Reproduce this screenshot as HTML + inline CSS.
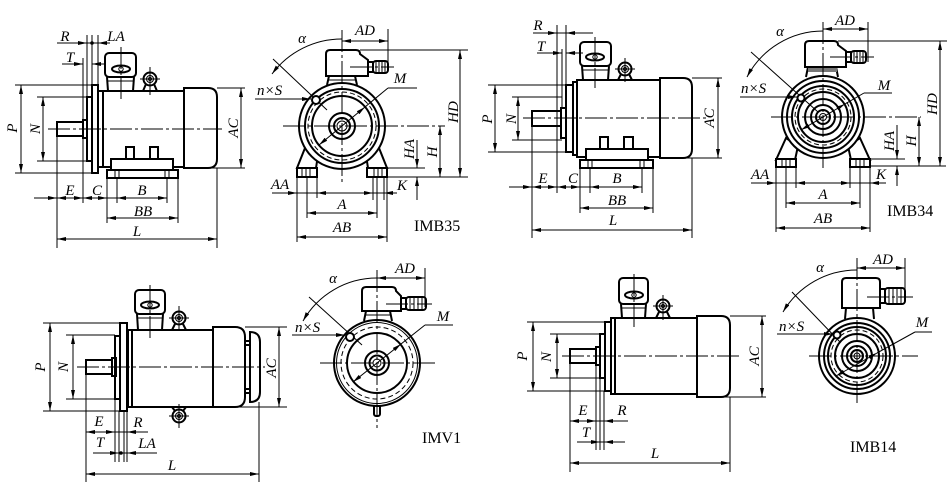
<!DOCTYPE html>
<html><head><meta charset="utf-8"><style>
html,body{margin:0;padding:0;background:#fff}
svg{display:block}
.k{fill:none;stroke:#000;stroke-width:2}
.w{fill:#fff;stroke:#000;stroke-width:2}
.t{fill:none;stroke:#000;stroke-width:1}
.c{fill:none;stroke:#000;stroke-width:1;stroke-dasharray:22 3 3 3}
.d{fill:none;stroke:#000;stroke-width:1;stroke-dasharray:5 3}
.b{marker-start:url(#a);marker-end:url(#a)}
.e{marker-end:url(#a)}
.s{marker-start:url(#a)}
text{font-family:"Liberation Serif",serif;font-style:italic;font-size:15px;fill:#000}
.u{font-style:normal;font-size:16px}
</style></head><body>
<svg width="948" height="489" viewBox="0 0 948 489" xmlns="http://www.w3.org/2000/svg">
<defs><marker id="a" viewBox="0 0 9 4" refX="9" refY="2" markerWidth="9" markerHeight="4" orient="auto-start-reverse" markerUnits="userSpaceOnUse"><path d="M0,0L9,2L0,4z" fill="#000"/></marker></defs>

<!-- ===== Panel 1 : IMB35 side ===== -->
<rect class="k" x="98" y="91" width="86" height="76"/>
<path class="k" d="M103,91V167"/>
<path class="k" d="M184,88H208Q217,88 217,97V159Q217,168 208,168H184Z"/>
<rect class="k" x="92" y="85" width="6" height="88"/>
<rect class="k" x="87" y="97" width="5" height="64"/>
<rect class="k" x="83" y="120" width="4" height="18"/>
<rect class="k" x="57" y="122" width="26" height="14"/>
<rect class="w" x="105" y="53" width="31" height="24" rx="4"/>
<path class="k" d="M107,77L108,91M134,77L133,91"/>
<path class="t" d="M107,81H134"/>
<ellipse class="k" cx="121" cy="69" rx="9" ry="3.5"/>
<circle class="t" cx="121" cy="69" r="2.2"/>
<path class="k" d="M143,91L146,84M157,91L154,84"/>
<circle class="w" cx="150" cy="79" r="6.5"/>
<circle class="t" cx="150" cy="79" r="3.5"/>
<circle class="t" cx="150" cy="79" r="1.5"/>
<path class="t" d="M150,67V95M140,79H160"/>
<rect class="w" x="126" y="147" width="8" height="13"/>
<rect class="w" x="150" y="147" width="8" height="13"/>
<rect class="w" x="111" y="159" width="62" height="11"/>
<rect class="w" x="107" y="170" width="71" height="8"/>
<path class="t" d="M115,171V177M119,171V177M165,171V177M169,171V177"/>
<path class="c" d="M48,129H222M121,47V99"/>
<path class="t" d="M15,85H92M15,173H92M37,97H87M37,161H87M217,88H245M210,168H245M83,58V203M87,35V97M92,35V85M98,35V85M57,136V248M107,178V223M117,178V203M167,178V203M178,178V223M217,168V248"/>
<path class="t b" d="M21,85V173"/>
<path class="t b" d="M43,97V161"/>
<path class="t b" d="M241,88V168"/>
<path class="t e" d="M57,43H87"/><path class="t" d="M87,43H98"/><path class="t e" d="M110,43H98"/>
<circle cx="92" cy="43" r="1.8"/>
<path class="t e" d="M62,64H83"/><path class="t e" d="M104,64H92"/>
<path class="t e" d="M34,198H57"/>
<path class="t b" d="M57,198H83"/>
<path class="t b" d="M83,198H107"/>
<path class="t" d="M107,198H117"/>
<path class="t b" d="M117,198H167"/>
<path class="t b" d="M107,218H178"/>
<path class="t b" d="M57,239H217"/>
<text x="65" y="41" text-anchor="middle">R</text>
<text x="116" y="41" text-anchor="middle">LA</text>
<text x="70" y="62" text-anchor="middle">T</text>
<text x="70" y="195" text-anchor="middle">E</text>
<text x="97" y="195" text-anchor="middle">C</text>
<text x="142" y="195" text-anchor="middle">B</text>
<text x="143" y="216" text-anchor="middle">BB</text>
<text x="137" y="236" text-anchor="middle">L</text>
<text transform="translate(17,128) rotate(-90)" text-anchor="middle">P</text>
<text transform="translate(40,129) rotate(-90)" text-anchor="middle">N</text>
<text transform="translate(238,128) rotate(-90)" text-anchor="middle">AC</text>

<!-- ===== Panel 2 : IMB35 end ===== -->
<path class="w" d="M305,148L297,168H316L318,155Z"/>
<path class="w" d="M379,148L387,168H368L366,155Z"/>
<rect class="w" x="297" y="168" width="20" height="9"/>
<rect class="w" x="367" y="168" width="20" height="9"/>
<path class="t" d="M302,169V176M306,169V176M310,169V176M374,169V176M378,169V176M382,169V176"/>
<circle class="w" cx="342" cy="126" r="43"/>
<circle class="k" cx="342" cy="126" r="37"/>
<circle class="d" cx="342" cy="126" r="34"/>
<circle class="k" cx="342" cy="126" r="30"/>
<circle class="k" cx="342" cy="126" r="13"/>
<circle class="k" cx="342" cy="126" r="8"/>
<circle class="t" cx="342" cy="126" r="5"/>
<path class="k" d="M329,76L327,85M355,76L357,85"/>
<path class="t" d="M329,80H356"/>
<path class="w" d="M330,50H356Q360,50 360,54L368,60V76H326V54Q326,50 330,50Z"/>
<rect class="w" x="368" y="62" width="5" height="10"/>
<rect class="w" x="373" y="61" width="15" height="12" rx="3"/>
<path class="t" d="M376,61V73M379,61V73M382,61V73M385,61V73"/>
<path class="c" d="M342,30V182M283,126H445M350,67H394"/>
<path class="t" d="M273,59L327,110"/>
<circle class="w" cx="316" cy="100" r="4"/>
<path class="t s" d="M272,74A87,87 0 0 1 342,39"/>
<path class="t e" d="M255,99H311"/>
<path class="t" d="M388,88H417M365,107L388,88"/>
<path class="t b" d="M319,145L365,107"/>
<path class="t b" d="M342,41H388"/>
<path class="t" d="M388,29V68M360,50H468M387,168H425M387,177H468"/>
<path class="t b" d="M460,50V177"/>
<path class="t b" d="M440,126V177"/>
<path class="t e" d="M417,140V168"/><path class="t e" d="M417,200V177"/>
<path class="t" d="M272,193H397"/>
<path class="t e" d="M286,193H297"/><path class="t e" d="M328,193H317"/><path class="t e" d="M362,193H373"/><path class="t e" d="M396,193H384"/>
<path class="t" d="M297,177V242M387,177V242M307,177V218M377,177V218M317,177V198M373,177V200M384,177V200"/>
<path class="t b" d="M307,213H377"/>
<path class="t b" d="M297,237H387"/>
<text x="365" y="35" text-anchor="middle">AD</text>
<text x="302" y="43" text-anchor="middle">α</text>
<text x="257" y="95">n×S</text>
<text x="400" y="83" text-anchor="middle">M</text>
<text transform="translate(458,112) rotate(-90)" text-anchor="middle">HD</text>
<text transform="translate(437,152) rotate(-90)" text-anchor="middle">H</text>
<text transform="translate(414,149) rotate(-90)" text-anchor="middle">HA</text>
<text x="280" y="189" text-anchor="middle">AA</text>
<text x="402" y="190" text-anchor="middle">K</text>
<text x="342" y="209" text-anchor="middle">A</text>
<text x="342" y="232" text-anchor="middle">AB</text>
<text class="u" x="414" y="231">IMB35</text>

<!-- ===== Panel 3 : IMB34 side ===== -->
<rect class="k" x="577" y="80" width="83" height="77"/>
<rect class="k" x="573" y="82" width="4" height="73"/>
<path class="k" d="M660,78H683Q692,78 692,87V149Q692,158 683,158H660Z"/>
<rect class="k" x="566" y="85" width="7" height="67"/>
<rect class="k" x="561" y="108" width="5" height="30"/>
<rect class="k" x="532" y="111" width="29" height="15"/>
<rect class="w" x="580" y="42" width="31" height="24" rx="4"/>
<path class="k" d="M582,66L583,80M609,66L608,80"/>
<path class="t" d="M582,70H609"/>
<ellipse class="k" cx="595" cy="57" rx="9" ry="3.5"/>
<circle class="t" cx="595" cy="57" r="2.2"/>
<path class="k" d="M618,80L621,74M632,80L629,74"/>
<circle class="w" cx="625" cy="69" r="6.5"/>
<circle class="t" cx="625" cy="69" r="3.5"/>
<circle class="t" cx="625" cy="69" r="1.5"/>
<path class="t" d="M625,58V82M615,69H635"/>
<rect class="w" x="600" y="137" width="8" height="13"/>
<rect class="w" x="624" y="137" width="9" height="13"/>
<rect class="w" x="586" y="149" width="62" height="11"/>
<rect class="w" x="580" y="160" width="73" height="8"/>
<path class="t" d="M588,161V167M592,161V167M640,161V167M644,161V167"/>
<path class="c" d="M523,118H707M595,37V88"/>
<path class="t" d="M488,85H566M488,152H566M512,97H562M512,140H562M692,78H722M685,158H722M557,25V193M566,25V85M562,49V108M532,126V238M580,168V213M590,168V193M642,168V193M653,168V213M692,158V238"/>
<path class="t b" d="M495,85V152"/>
<path class="t b" d="M518,97V140"/>
<path class="t b" d="M718,78V158"/>
<path class="t e" d="M533,33H557"/><path class="t" d="M557,33H566"/><path class="t e" d="M593,33H566"/>
<path class="t e" d="M537,53H562"/><path class="t e" d="M583,53H566"/>
<path class="t e" d="M509,187H532"/>
<path class="t b" d="M532,187H557"/>
<path class="t b" d="M557,187H580"/>
<path class="t" d="M580,187H590"/>
<path class="t b" d="M590,187H642"/>
<path class="t b" d="M580,208H653"/>
<path class="t b" d="M532,230H692"/>
<text x="538" y="30" text-anchor="middle">R</text>
<text x="541" y="51" text-anchor="middle">T</text>
<text x="543" y="183" text-anchor="middle">E</text>
<text x="573" y="183" text-anchor="middle">C</text>
<text x="617" y="183" text-anchor="middle">B</text>
<text x="617" y="205" text-anchor="middle">BB</text>
<text x="613" y="225" text-anchor="middle">L</text>
<text transform="translate(492,119) rotate(-90)" text-anchor="middle">P</text>
<text transform="translate(516,119) rotate(-90)" text-anchor="middle">N</text>
<text transform="translate(714,118) rotate(-90)" text-anchor="middle">AC</text>

<!-- ===== Panel 4 : IMB34 end ===== -->
<path class="w" d="M786,138L776,160H795L798,146Z"/>
<path class="w" d="M860,138L870,160H851L848,146Z"/>
<rect class="w" x="776" y="159" width="20" height="8"/>
<rect class="w" x="850" y="159" width="20" height="8"/>
<path class="t" d="M782,160V166M786,160V166M790,160V166M856,160V166M860,160V166M864,160V166"/>
<circle class="w" cx="823" cy="117" r="41"/>
<circle class="k" cx="823" cy="117" r="36"/>
<circle class="k" cx="823" cy="117" r="31"/>
<circle class="d" cx="823" cy="117" r="28"/>
<circle class="k" cx="823" cy="117" r="25"/>
<circle class="k" cx="823" cy="117" r="18"/>
<circle class="k" cx="823" cy="117" r="12"/>
<circle class="k" cx="823" cy="117" r="7"/>
<circle class="t" cx="823" cy="117" r="3.5"/>
<path class="k" d="M808,67L806,77M836,67L838,77"/>
<rect x="808" y="68" width="29" height="4" fill="#777"/>
<path class="w" d="M809,41H834Q838,41 838,45L846,51V67H805V45Q805,41 809,41Z"/>
<rect class="w" x="846" y="52" width="5" height="10"/>
<rect class="w" x="851" y="51" width="15" height="12" rx="3"/>
<path class="t" d="M854,51V63M857,51V63M860,51V63M863,51V63"/>
<path class="c" d="M823,22V170M771,117H921M830,57H874"/>
<path class="t" d="M751,52L818,112"/>
<circle class="w" cx="801" cy="98" r="3.5"/>
<path class="t s" d="M747,77A86,86 0 0 1 823,31"/>
<path class="t e" d="M740,97H797"/>
<path class="t" d="M864,93H892M845,104L864,93"/>
<path class="t b" d="M801,130L845,104"/>
<path class="t b" d="M823,29H868"/>
<path class="t" d="M868,22V62M838,41H947M870,159H905M870,166H946"/>
<path class="t b" d="M940,41V166"/>
<path class="t b" d="M919,117V166"/>
<path class="t e" d="M897,125V159"/><path class="t e" d="M897,186V166"/>
<path class="t" d="M751,183H886"/>
<path class="t e" d="M766,183H776"/><path class="t e" d="M806,183H796"/><path class="t e" d="M840,183H850"/><path class="t e" d="M882,183H870"/>
<path class="t" d="M776,167V232M870,167V232M786,167V208M860,167V208M796,167V188M850,167V188"/>
<path class="t b" d="M786,203H860"/>
<path class="t b" d="M776,228H870"/>
<text x="845" y="25" text-anchor="middle">AD</text>
<text x="780" y="36" text-anchor="middle">α</text>
<text x="741" y="93">n×S</text>
<text x="884" y="90" text-anchor="middle">M</text>
<text transform="translate(937,104) rotate(-90)" text-anchor="middle">HD</text>
<text transform="translate(916,141) rotate(-90)" text-anchor="middle">H</text>
<text transform="translate(894,141) rotate(-90)" text-anchor="middle">HA</text>
<text x="760" y="179" text-anchor="middle">AA</text>
<text x="881" y="179" text-anchor="middle">K</text>
<text x="823" y="199" text-anchor="middle">A</text>
<text x="823" y="223" text-anchor="middle">AB</text>
<text class="u" x="887" y="216">IMB34</text>

<!-- ===== Panel 5 : IMV1 side ===== -->
<rect class="k" x="128" y="330" width="85" height="77"/>
<path class="k" d="M132,330V407"/>
<path class="k" d="M213,327H235Q245,327 245,337V397Q245,407 235,407H213Z"/>
<path class="w" d="M250,332Q260,332 260,342V392Q260,402 250,402Z"/>
<rect class="k" x="245" y="341" width="5" height="4"/>
<rect class="k" x="245" y="389" width="5" height="4"/>
<rect class="k" x="120" y="323" width="7" height="88"/>
<rect class="k" x="115" y="336" width="5" height="63"/>
<rect class="k" x="112" y="358" width="4" height="18"/>
<rect class="k" x="86" y="360" width="26" height="14"/>
<rect class="w" x="135" y="290" width="30" height="24" rx="4"/>
<path class="k" d="M137,314L138,330M163,314L162,330"/>
<path class="t" d="M137,318H163"/>
<ellipse class="k" cx="150" cy="305" rx="9" ry="3.5"/>
<circle class="t" cx="150" cy="305" r="2.2"/>
<path class="k" d="M172,330L175,324M186,330L183,324"/>
<circle class="w" cx="179" cy="318" r="6.5"/>
<circle class="t" cx="179" cy="318" r="3.5"/>
<circle class="t" cx="179" cy="318" r="1.5"/>
<path class="t" d="M179,306V331M169,318H189"/>
<path class="k" d="M172,407L175,411M186,407L183,411"/>
<circle class="w" cx="179" cy="416" r="6.5"/>
<circle class="t" cx="179" cy="416" r="3.5"/>
<circle class="t" cx="179" cy="416" r="1.5"/>
<path class="t" d="M179,404V428M169,416H189"/>
<path class="c" d="M77,367H265M150,285V338"/>
<path class="t" d="M43,323H120M43,411H120M66,335H115M66,399H115M245,327H287M238,407H287M115,399V462M119,411V462M124,411V462M127,411V462M86,374V482M259,402V482"/>
<path class="t b" d="M50,323V411"/>
<path class="t b" d="M73,335V399"/>
<path class="t b" d="M279,327V407"/>
<path class="t b" d="M86,432H115"/>
<path class="t" d="M115,432H127"/><path class="t e" d="M148,432H127"/>
<path class="t e" d="M93,453H119"/><path class="t" d="M119,453H127"/><path class="t e" d="M157,453H127"/>
<circle cx="121" cy="453" r="1.8"/>
<path class="t b" d="M86,474H259"/>
<text x="99" y="426" text-anchor="middle">E</text>
<text x="138" y="427" text-anchor="middle">R</text>
<text x="100" y="447" text-anchor="middle">T</text>
<text x="147" y="448" text-anchor="middle">LA</text>
<text x="172" y="470" text-anchor="middle">L</text>
<text transform="translate(45,367) rotate(-90)" text-anchor="middle">P</text>
<text transform="translate(68,367) rotate(-90)" text-anchor="middle">N</text>
<text transform="translate(276,368) rotate(-90)" text-anchor="middle">AC</text>

<!-- ===== Panel 6 : IMV1 end ===== -->
<rect class="w" x="374" y="404" width="6" height="12" rx="2"/>
<circle class="w" cx="377" cy="363" r="43"/>
<circle class="t" cx="377" cy="363" r="40.5"/>
<circle class="d" cx="377" cy="363" r="36"/>
<circle class="k" cx="377" cy="363" r="30"/>
<circle class="k" cx="377" cy="363" r="12"/>
<circle class="k" cx="377" cy="363" r="7.5"/>
<circle class="t" cx="377" cy="363" r="4"/>
<path class="k" d="M366,311L364,321M390,311L392,321"/>
<path class="t" d="M366,315H391"/>
<path class="w" d="M366,287H392Q396,287 396,291L401,296V311H362V291Q362,287 366,287Z"/>
<rect class="w" x="401" y="298" width="5" height="11"/>
<rect class="w" x="406" y="297" width="20" height="13" rx="3"/>
<path class="t" d="M410,297V310M414,297V310M418,297V310M422,297V310"/>
<path class="c" d="M377,270V428M320,363H437M386,304H432"/>
<path class="t" d="M309,297L362,345"/>
<circle class="w" cx="350" cy="337" r="4"/>
<path class="t s" d="M303,321A85,85 0 0 1 377,278"/>
<path class="t e" d="M292,335H345"/>
<path class="t" d="M425,325H453M401,344L425,325"/>
<path class="t b" d="M353,382L401,344"/>
<path class="t b" d="M377,278H425"/>
<path class="t" d="M425,268V307"/>
<text x="405" y="273" text-anchor="middle">AD</text>
<text x="333" y="283" text-anchor="middle">α</text>
<text x="295" y="332">n×S</text>
<text x="443" y="321" text-anchor="middle">M</text>
<text class="u" x="422" y="443">IMV1</text>

<!-- ===== Panel 7 : IMB14 side ===== -->
<rect class="k" x="615" y="318" width="82" height="76"/>
<rect class="k" x="611" y="318" width="4" height="76"/>
<path class="k" d="M697,316H721Q730,316 730,325V388Q730,397 721,397H697Z"/>
<rect class="k" x="605" y="322" width="6" height="69"/>
<rect class="k" x="600" y="334" width="5" height="44"/>
<rect class="k" x="596" y="347" width="4" height="18"/>
<rect class="k" x="570" y="349" width="26" height="14"/>
<rect class="w" x="619" y="278" width="29" height="26" rx="4"/>
<path class="k" d="M621,304L622,318M646,304L645,318"/>
<path class="t" d="M621,308H646"/>
<ellipse class="k" cx="634" cy="295" rx="9" ry="3.5"/>
<circle class="t" cx="634" cy="295" r="2.2"/>
<path class="k" d="M656,318L659,312M670,318L667,312"/>
<circle class="w" cx="663" cy="306" r="6.5"/>
<circle class="t" cx="663" cy="306" r="3.5"/>
<circle class="t" cx="663" cy="306" r="1.5"/>
<path class="t" d="M663,295V320M653,306H673"/>
<path class="c" d="M562,356H740M634,274V327"/>
<path class="t" d="M527,322H605M527,391H605M550,334H600M550,378H600M730,316H766M723,397H766M596,365V450M600,378V450M604,391V450M570,363V472M730,397V472"/>
<path class="t b" d="M533,322V391"/>
<path class="t b" d="M557,334V378"/>
<path class="t b" d="M762,316V397"/>
<path class="t b" d="M570,421H596"/>
<path class="t" d="M596,421H604"/><path class="t e" d="M628,421H604"/>
<path class="t e" d="M577,442H600"/><path class="t" d="M600,442H604"/><path class="t e" d="M625,442H604"/>
<path class="t b" d="M570,463H730"/>
<text x="583" y="415" text-anchor="middle">E</text>
<text x="622" y="415" text-anchor="middle">R</text>
<text x="586" y="437" text-anchor="middle">T</text>
<text x="655" y="458" text-anchor="middle">L</text>
<text transform="translate(527,356) rotate(-90)" text-anchor="middle">P</text>
<text transform="translate(551,357) rotate(-90)" text-anchor="middle">N</text>
<text transform="translate(759,356) rotate(-90)" text-anchor="middle">AC</text>

<!-- ===== Panel 8 : IMB14 end ===== -->
<circle class="w" cx="857" cy="356" r="38"/>
<circle class="k" cx="857" cy="356" r="33"/>
<circle class="k" cx="857" cy="356" r="29"/>
<circle class="d" cx="857" cy="356" r="26"/>
<circle class="k" cx="857" cy="356" r="22"/>
<circle class="k" cx="857" cy="356" r="15"/>
<circle class="k" cx="857" cy="356" r="10"/>
<circle class="k" cx="857" cy="356" r="6"/>
<circle class="t" cx="857" cy="356" r="3"/>
<path class="k" d="M846,308L845,319M873,308L874,319"/>
<path class="w" d="M846,278H876Q880,278 880,282V308H842V282Q842,278 846,278Z"/>
<rect class="w" x="880" y="289" width="5" height="14"/>
<rect class="w" x="885" y="288" width="20" height="16" rx="3"/>
<path class="t" d="M889,288V304M893,288V304M897,288V304M901,288V304"/>
<path class="c" d="M857,258V403M809,356H918M867,297H913"/>
<path class="t" d="M792,292L840,342"/>
<circle class="w" cx="837" cy="335" r="3.5"/>
<path class="t s" d="M783,312A86,86 0 0 1 857,270"/>
<path class="t e" d="M777,334H833"/>
<path class="t" d="M915,332H932M877,353L915,332"/>
<path class="t b" d="M836,376L877,353"/>
<path class="t b" d="M857,268H905"/>
<path class="t" d="M905,258V300"/>
<text x="883" y="264" text-anchor="middle">AD</text>
<text x="820" y="272" text-anchor="middle">α</text>
<text x="779" y="331">n×S</text>
<text x="922" y="327" text-anchor="middle">M</text>
<text class="u" x="850" y="452">IMB14</text>
</svg>
</body></html>
